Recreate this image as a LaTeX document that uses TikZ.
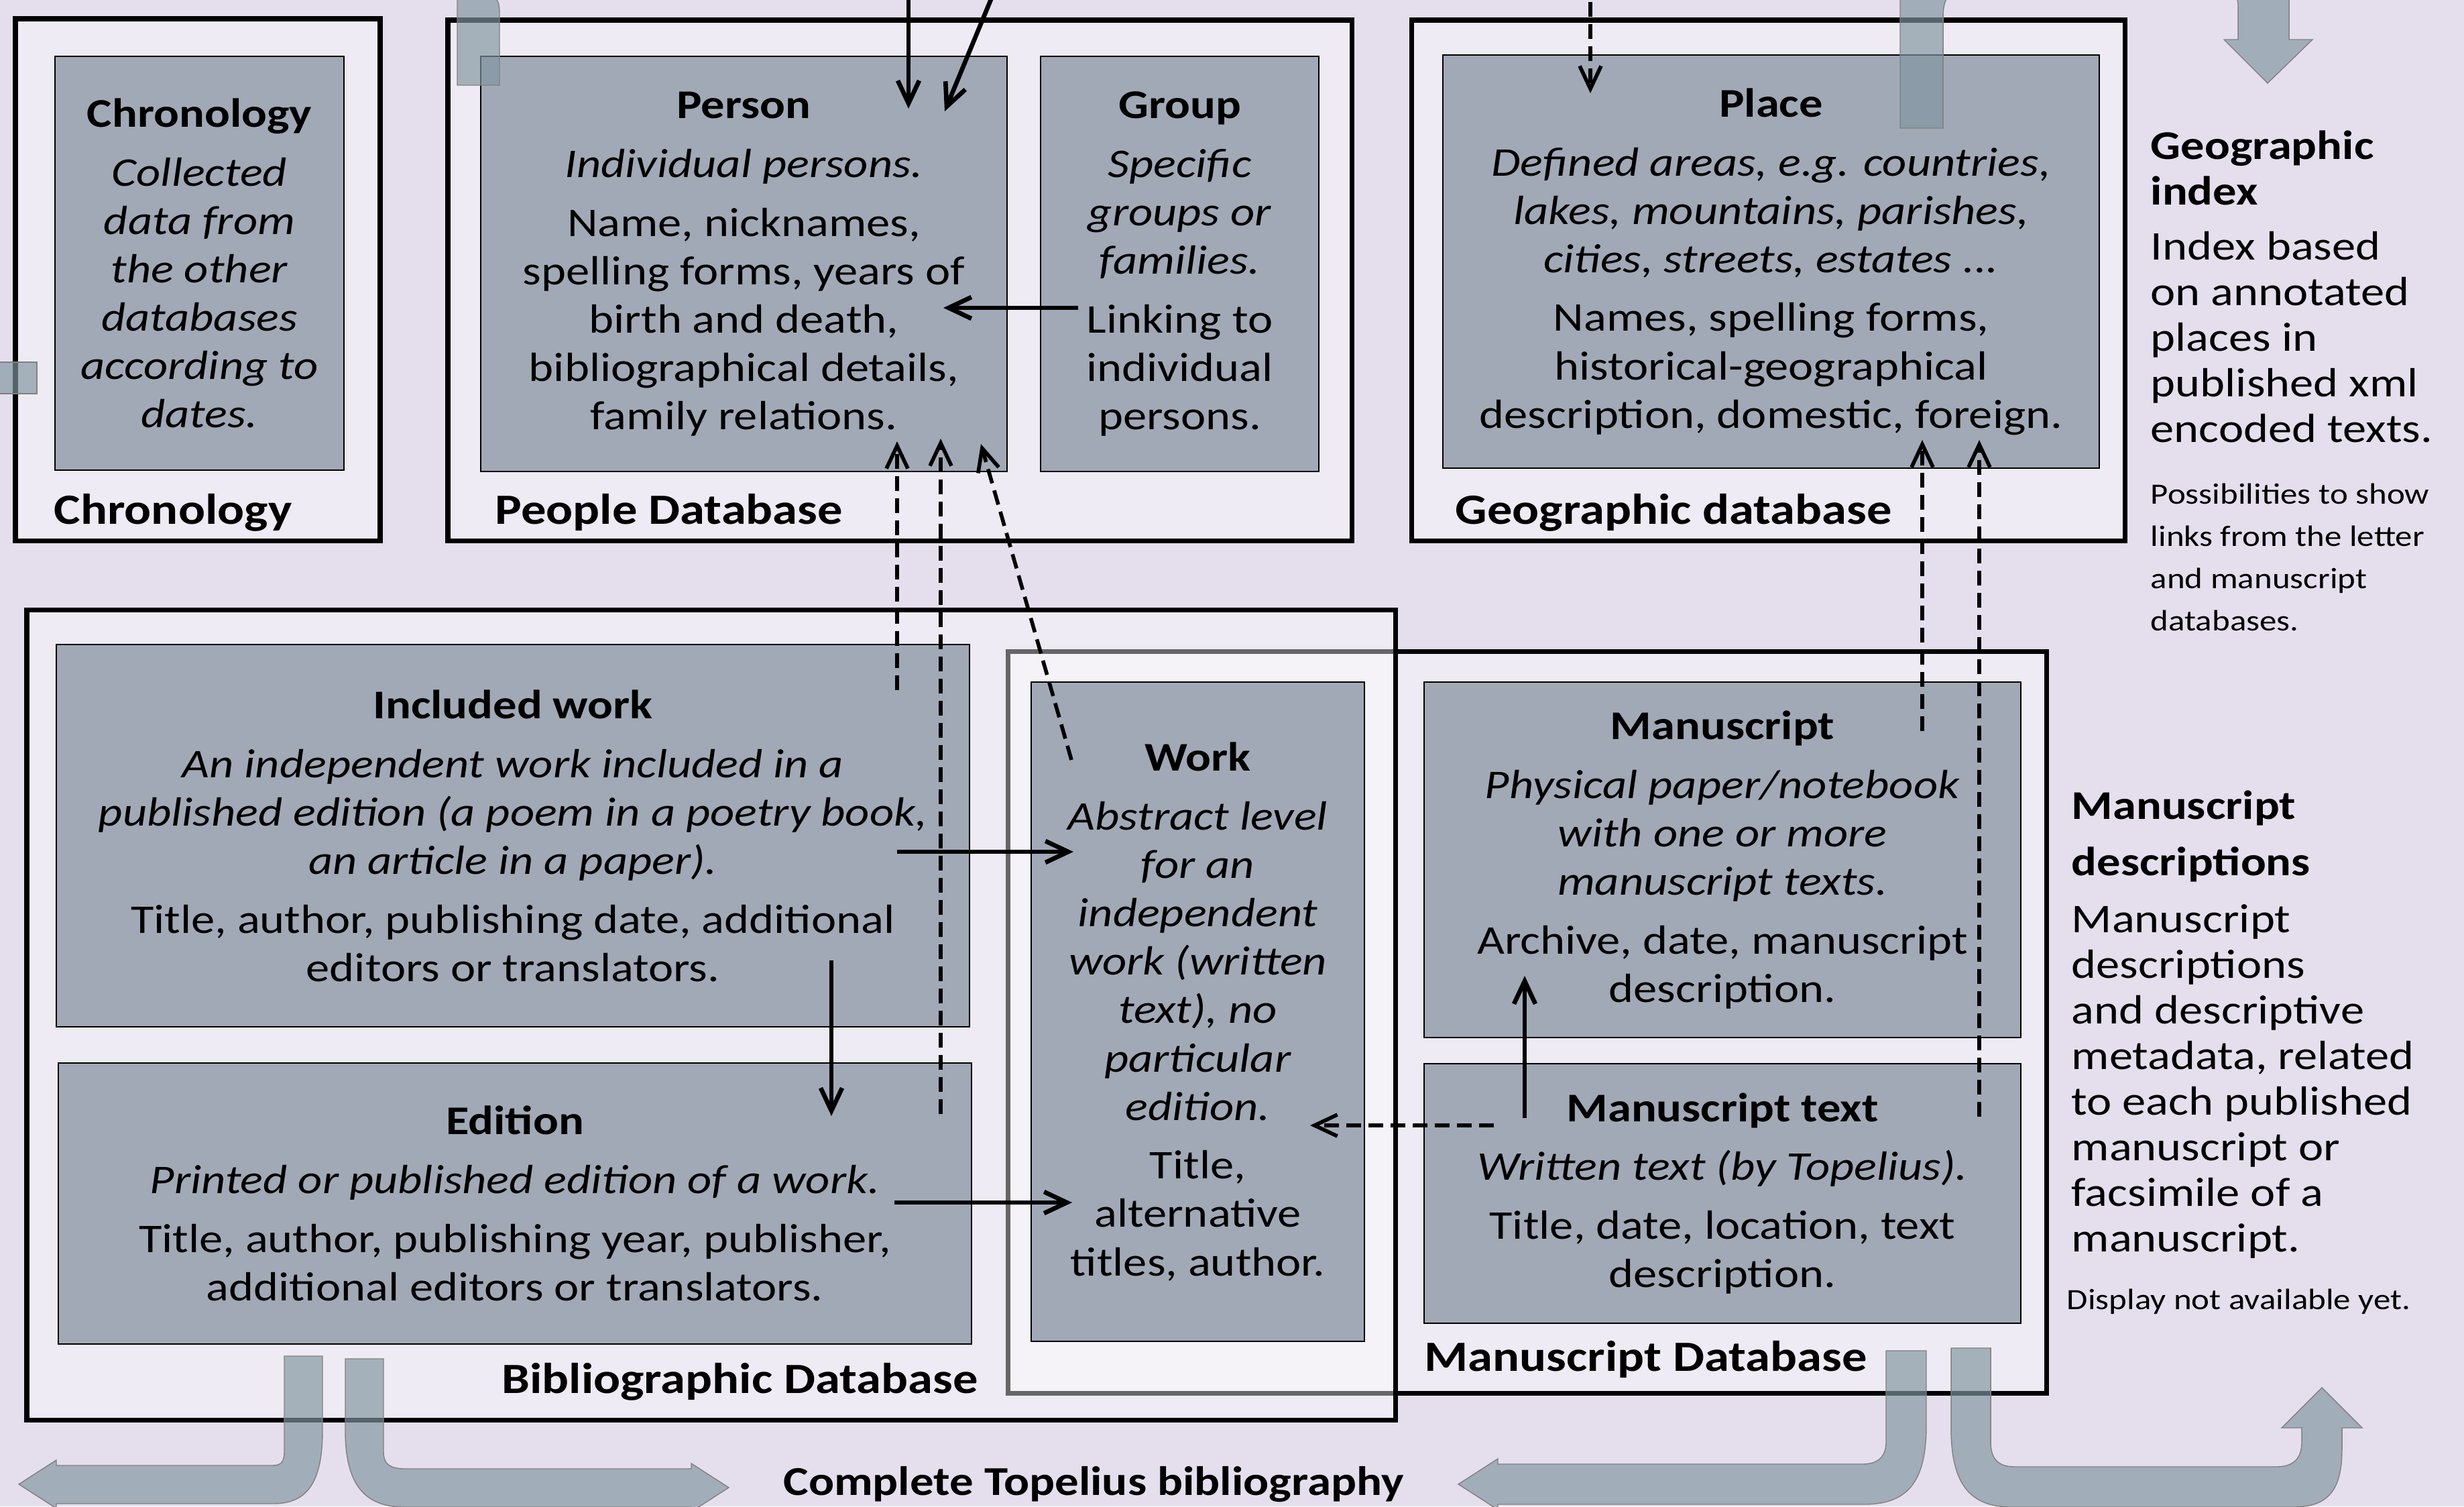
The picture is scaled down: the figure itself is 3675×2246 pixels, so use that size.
\documentclass[tikz,border=0pt]{standalone}
\usepackage{fontspec}
\setmainfont{Carlito}[FakeStretch=1.16]
\usetikzlibrary{arrows.meta}

\definecolor{bgcol}{HTML}{E5DFED}
\definecolor{boxfill}{HTML}{A2A9B6}
\definecolor{flowcol}{HTML}{8095A0}

\newcommand{\bodyfont}{\fontsize{17.3pt}{20.5pt}\selectfont}
\newcommand{\labelfont}{\fontsize{18.3pt}{22pt}\selectfont\bfseries}
\newcommand{\notefont}{\fontsize{17.3pt}{19.35pt}\selectfont}
\newcommand{\smallnotefont}{\fontsize{12.5pt}{17.9pt}\selectfont}

\tikzset{
  dbbox/.style={draw=black, line width=2pt, fill=white, fill opacity=0.4},
  infobox/.style={draw=black, line width=0.8pt, fill=boxfill, align=center, inner sep=0pt, font=\bodyfont},
  dblabel/.style={font=\labelfont, inner sep=0pt},
  note/.style={align=left, inner sep=0pt, font=\notefont},
  link/.style={line width=1.9pt, -{Straight Barb[length=3.4mm,width=3.2mm]}},
  reflink/.style={link, line width=1.6pt, dash pattern=on 2.2mm off 1.1mm},
  flow/.style={fill=flowcol, fill opacity=0.67, draw=gray, line width=0.4pt},
}

\begin{document}
\begin{tikzpicture}[x=0.1mm,y=-0.1mm]

\fill[bgcol] (0,0) rectangle (3675,2246);
\useasboundingbox (0,0) rectangle (3675,2246);
\clip (0,0) rectangle (3675,2246);

% databases
\draw[dbbox] (23,28) rectangle (567,806);
\draw[dbbox] (668,30) rectangle (2016,806);
\draw[dbbox] (2105,30) rectangle (3169,806);
\draw[dbbox] (1503,971) rectangle (3052,2077);
\draw[dbbox] (40,909) rectangle (2081,2117);

\node[dblabel,anchor=west] (chronlbl) at (80,764) {Chronology};
\node[dblabel,anchor=west] (peoplelbl) at (738,764) {People Database};
\node[dblabel,anchor=west] (geolbl) at (2170,764) {Geographic database};
\node[dblabel,anchor=east] (bibllbl) at (1459,2060) {Bibliographic Database};
\node[dblabel,anchor=west] (mslbl) at (2124,2027) {Manuscript Database};
\node[dblabel,font=\fontsize{17.4pt}{21pt}\selectfont\bfseries] (completelbl) at (1631,2213) {Complete Topelius bibliography};

% records
\node[infobox, minimum width=43.1mm, minimum height=61.7mm] (chron) at (297.5,392.5)
  {\textbf{Chronology}\\[4.5pt]\textit{Collected}\\\textit{data from}\\\textit{the other}\\\textit{databases}\\\textit{according to}\\\textit{dates.}};
\node[infobox, minimum width=78.5mm, minimum height=61.9mm] (person) at (1109.5,393.5)
  {\textbf{Person}\\[4.5pt]\textit{Individual persons.}\\[4.5pt]Name, nicknames,\\spelling forms, years of\\birth and death,\\bibliographical details,\\family relations.};
\node[infobox, minimum width=41.5mm, minimum height=61.9mm] (group) at (1759.5,393.5)
  {\textbf{Group}\\[4.5pt]\textit{Specific}\\\textit{groups or}\\\textit{families.}\\[4.5pt]Linking to\\individual\\persons.};
\node[infobox, minimum width=97.9mm, minimum height=61.6mm] (place) at (2641.5,390)
  {\textbf{Place}\\[4.5pt]\textit{Defined areas, e.g. countries,}\\\textit{lakes, mountains, parishes,}\\\textit{cities, streets, estates ...}\\[4.5pt]Names, spelling forms,\\historical-geographical\\description, domestic, foreign.};
\node[infobox, minimum width=136.2mm, minimum height=57mm] (incl) at (765,1246)
  {\textbf{Included work}\\[4.5pt]\textit{An independent work included in a}\\\textit{published edition (a poem in a poetry book,}\\\textit{an article in a paper).}\\[4.5pt]Title, author, publishing date, additional\\editors or translators.};
\node[infobox, minimum width=136.2mm, minimum height=41.9mm] (edition) at (768,1794.5)
  {\textbf{Edition}\\[4.5pt]\textit{Printed or published edition of a work.}\\[4.5pt]Title, author, publishing year, publisher,\\additional editors or translators.};
\node[infobox, minimum width=49.7mm, minimum height=98.3mm] (work) at (1786.5,1508.5)
  {\textbf{Work}\\[4.5pt]\textit{Abstract level}\\\textit{for an}\\\textit{independent}\\\textit{work (written}\\\textit{text), no}\\\textit{particular}\\\textit{edition.}\\[4.5pt]Title,\\alternative\\titles, author.};
\node[infobox, minimum width=89mm, minimum height=53mm] (ms) at (2569,1282)
  {\textbf{Manuscript}\\[4.5pt]\textit{Physical paper/notebook}\\\textit{with one or more}\\\textit{manuscript texts.}\\[4.5pt]Archive, date, manuscript\\description.};
\node[infobox, minimum width=89mm, minimum height=38.7mm] (mstext) at (2569,1779.5)
  {\textbf{Manuscript text}\\[4.5pt]\textit{Written text (by Topelius).}\\[4.5pt]Title, date, location, text\\description.};

% side notes
\node[note, font=\notefont\bfseries, anchor=west] (geohead) at (3207,250) {Geographic\\index};
\node[note, anchor=west] (geotext) at (3207,503) {Index based\\on annotated\\places in\\published xml\\encoded texts.};
\node[note, font=\smallnotefont, anchor=west] (geosmall) at (3207,831) {Possibilities to show\\links from the letter\\and manuscript\\databases.};
\node[note, font=\fontsize{17.3pt}{23.9pt}\selectfont\bfseries, anchor=west] (mshead) at (3089,1247) {Manuscript\\descriptions};
\node[note, anchor=west] (mstext2) at (3089,1612.5) {Manuscript\\descriptions\\and descriptive\\metadata, related\\to each published\\manuscript or\\facsimile of a\\manuscript.};
\node[note, font=\smallnotefont, anchor=west] (mssmall) at (3082,1941) {Display not available yet.};

% flows between the sites
\draw[flow] (424,2022) -- (481,2022) -- (481,2133) .. controls (481,2215) and (455,2242) .. (407,2242) -- (84,2242) -- (84,2249) -- (28,2213) -- (84,2177) -- (84,2185) -- (407,2185) .. controls (420,2185) and (424,2178) .. (424,2165) -- cycle;
\draw[flow] (515,2026) -- (572,2026) -- (572,2165) .. controls (572,2182) and (580,2190) .. (605,2190) -- (1031,2190) -- (1031,2182) -- (1087,2218) -- (1031,2254) -- (1031,2247) -- (603,2247) .. controls (545,2247) and (515,2215) .. (515,2133) -- cycle;
\draw[flow] (2813,2014) -- (2873,2014) -- (2873,2125) .. controls (2873,2210) and (2845,2243) .. (2780,2243) -- (2234,2243) -- (2234,2251) -- (2175,2213) -- (2234,2175) -- (2234,2183) -- (2778,2183) .. controls (2803,2183) and (2813,2170) .. (2813,2150) -- cycle;
\draw[flow] (2910,2010) -- (2969,2010) -- (2969,2150) .. controls (2969,2175) and (2980,2187) .. (3005,2187) -- (3395,2187) .. controls (3420,2187) and (3433,2175) .. (3433,2150) -- (3433,2129) -- (3403,2129) -- (3463,2069) -- (3523,2129) -- (3493,2129) -- (3493,2160) .. controls (3493,2225) and (3470,2247) .. (3420,2247) -- (3000,2247) .. controls (2940,2247) and (2910,2215) .. (2910,2130) -- cycle;
\draw[flow] (2834,191) -- (2834,-80) -- (3414,-80) -- (3414,59) -- (3449,59) -- (3382,124) -- (3317,59) -- (3338,59) -- (3338,10) .. controls (3338,-10) and (3330,-15) .. (3310,-15) -- (2930,-15) .. controls (2905,-15) and (2898,0) .. (2898,26) -- (2898,191) -- cycle;
\draw[flow] (682,127) -- (682,-10) -- (735,-10) .. controls (745,5) .. (745,30) -- (745,127) -- cycle;
\draw[flow] (-10,540) rectangle (55,587);

% link ends
\coordinate (topin1) at (1355,-30);
\coordinate (personin1) at (1355,162);
\coordinate (topin2) at (1490,-30);
\coordinate (personin2) at (1409,166);
\coordinate (topin3) at (2372,-30);
\coordinate (placein1) at (2372,139);
\coordinate (groupout) at (1608,459);
\coordinate (personin3) at (1407,459);
\coordinate (inclout1) at (1338,1029);
\coordinate (personin4) at (1338,658);
\coordinate (edout1) at (1403,1661);
\coordinate (personin5) at (1403,654);
\coordinate (workout1) at (1598,1133);
\coordinate (personin6) at (1463,662);
\coordinate (msout1) at (2867,1090);
\coordinate (placein2) at (2867,656);
\coordinate (mstout1) at (2952,1665);
\coordinate (placein3) at (2952,656);
\coordinate (inclout2) at (1338,1270);
\coordinate (workin1) at (1601,1270);
\coordinate (edout2) at (1334,1793);
\coordinate (workin2) at (1599,1793);
\coordinate (inclout3) at (1240,1432);
\coordinate (edin1) at (1240,1664);
\coordinate (mstout2) at (2274,1667);
\coordinate (msin1) at (2274,1455);
\coordinate (mstout3) at (2228,1678);
\coordinate (workin3) at (1954,1678);

\draw[link] (topin1) -- (personin1);
\draw[link] (topin2) -- (personin2);
\draw[reflink] (topin3) -- (placein1);
\draw[link] (groupout) -- (personin3);
\draw[reflink] (inclout1) -- (personin4);
\draw[reflink] (edout1) -- (personin5);
\draw[reflink] (workout1) -- (personin6);
\draw[reflink] (msout1) -- (placein2);
\draw[reflink] (mstout1) -- (placein3);
\draw[link] (inclout2) -- (workin1);
\draw[link] (edout2) -- (workin2);
\draw[link] (inclout3) -- (edin1);
\draw[link] (mstout2) -- (msin1);
\draw[reflink] (mstout3) -- (workin3);

\end{tikzpicture}
\end{document}
